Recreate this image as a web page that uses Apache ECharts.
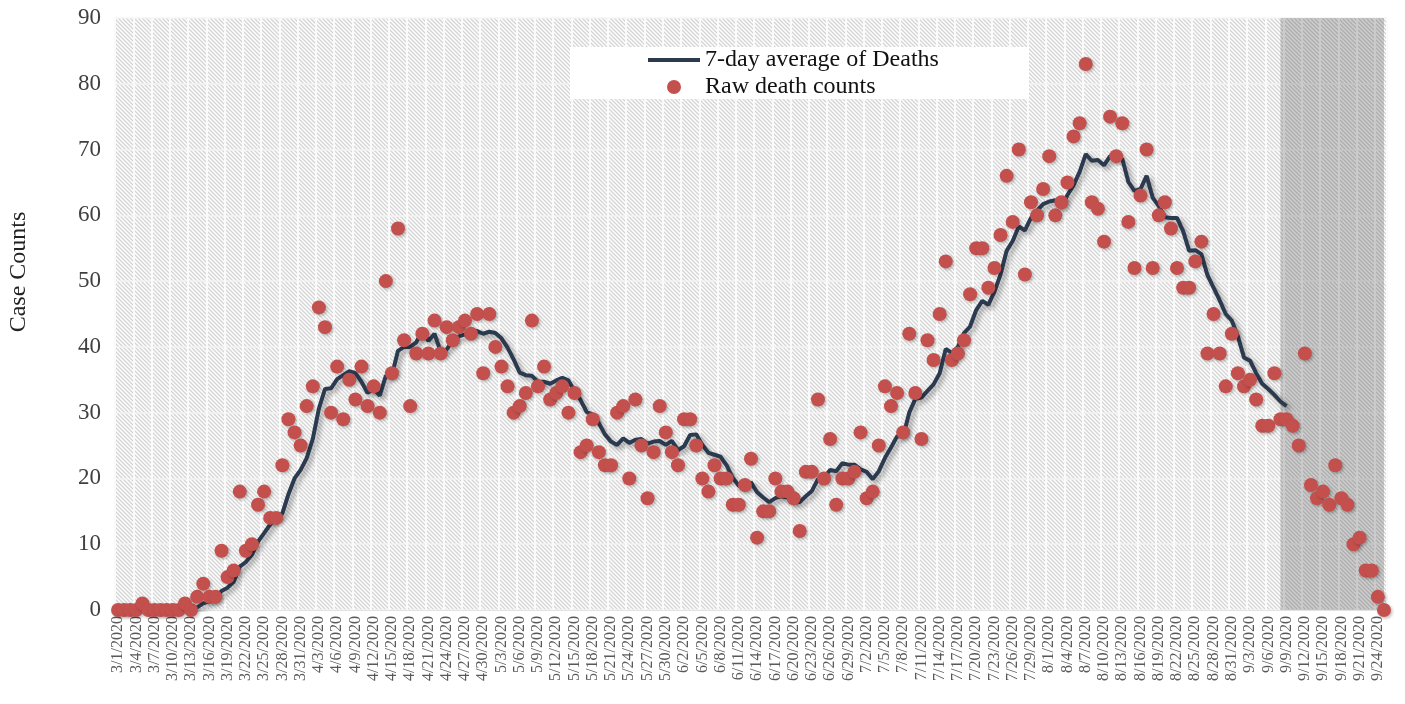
<!DOCTYPE html>
<html>
<head>
<meta charset="utf-8">
<script src="https://cdn.jsdelivr.net/npm/echarts@6/dist/echarts.min.js"></script>
<style>
  html, body { margin: 0; background: #fff; }
  #chart { width: 1405px; height: 704px; }
</style>
</head>
<body>
<div id="chart"></div>
<script>
// daily categories 3/1/2020 .. 9/25/2020
var dayCount = 209;
var days = [];
for (var d = 0; d < dayCount; d++) {
    var dt = new Date(2020, 2, 1 + d);
    days.push((dt.getMonth() + 1) + '/' + dt.getDate() + '/2020');
}

// raw daily deaths
var rawDeaths = [
    0, 0, 0, 0, 1, 0, 0, 0, 0, 0,
    0, 1, 0, 2, 4, 2, 2, 9, 5, 6,
    18, 9, 10, 16, 18, 14, 14, 22, 29, 27,
    25, 31, 34, 46, 43, 30, 37, 29, 35, 32,
    37, 31, 34, 30, 50, 36, 58, 41, 31, 39,
    42, 39, 44, 39, 43, 41, 43, 44, 42, 45,
    36, 45, 40, 37, 34, 30, 31, 33, 44, 34,
    37, 32, 33, 34, 30, 33, 24, 25, 29, 24,
    22, 22, 30, 31, 20, 32, 25, 17, 24, 31,
    27, 24, 22, 29, 29, 25, 20, 18, 22, 20,
    20, 16, 16, 19, 23, 11, 15, 15, 20, 18,
    18, 17, 12, 21, 21, 32, 20, 26, 16, 20,
    20, 21, 27, 17, 18, 25, 34, 31, 33, 27,
    42, 33, 26, 41, 38, 45, 53, 38, 39, 41,
    48, 55, 55, 49, 52, 57, 66, 59, 70, 51,
    62, 60, 64, 69, 60, 62, 65, 72, 74, 83,
    62, 61, 56, 75, 69, 74, 59, 52, 63, 70,
    52, 60, 62, 58, 52, 49, 49, 53, 56, 39,
    45, 39, 34, 42, 36, 34, 35, 32, 28, 28,
    36, 29, 29, 28, 25, 39, 19, 17, 18, 16,
    22, 17, 16, 10, 11, 6, 6, 2, 0
];

// 7-day average line, 3/7 .. 9/9
var avgFirst = 6;
var avgDeaths = [
    0.1, 0.1, 0.1, 0.1, 0.1, 0.1, 0.1,
    0.4, 1.0, 1.3, 1.6, 2.9, 3.4, 4.3,
    6.6, 7.3, 8.4, 10.4, 11.7, 13.0, 14.1,
    14.7, 17.6, 20.0, 21.3, 23.1, 26.0, 30.6,
    33.6, 33.7, 35.1, 35.7, 36.3, 36.0, 34.7,
    33.0, 33.6, 32.6, 35.6, 35.7, 39.4, 40.0,
    40.0, 40.7, 42.4, 40.9, 42.0, 39.3, 39.6,
    41.0, 41.6, 41.9, 42.3, 42.4, 42.0, 42.3,
    42.1, 41.3, 39.9, 38.1, 36.1, 35.7, 35.6,
    34.7, 34.7, 34.4, 34.9, 35.3, 34.9, 33.3,
    31.9, 30.1, 29.7, 28.4, 26.7, 25.6, 25.1,
    26.1, 25.4, 25.9, 26.0, 25.3, 25.6, 25.7,
    25.1, 25.7, 24.3, 24.9, 26.6, 26.7, 25.1,
    23.9, 23.6, 23.3, 22.0, 20.1, 18.9, 18.7,
    19.4, 17.9, 17.1, 16.4, 17.0, 17.3, 17.1,
    16.3, 16.4, 17.3, 18.1, 19.9, 20.1, 21.3,
    21.1, 22.3, 22.1, 22.1, 21.4, 21.0, 19.9,
    21.1, 23.1, 24.7, 26.4, 26.4, 30.0, 32.1,
    32.3, 33.3, 34.3, 36.0, 39.7, 39.1, 40.0,
    42.1, 43.1, 45.6, 47.0, 46.4, 48.4, 51.0,
    54.6, 56.1, 58.3, 57.7, 59.6, 60.7, 61.7,
    62.1, 62.3, 61.1, 63.1, 64.6, 66.6, 69.3,
    68.3, 68.4, 67.6, 69.0, 68.6, 68.6, 65.1,
    63.7, 64.0, 66.0, 62.7, 61.4, 59.7, 59.6,
    59.6, 57.6, 54.6, 54.7, 54.1, 50.9, 49.0,
    47.1, 45.0, 44.0, 41.6, 38.4, 37.9, 36.0,
    34.4, 33.6, 32.7, 31.7, 31.0
];

var shadeFrom = '9/8/2020';
var shadeTo = '9/25/2020';

var yTicks = { min: 0, max: 90, interval: 10 };

// pad the average onto the full day axis
var avgSeries = [];
for (var i = 0; i < dayCount; i++) {
    var k = i - avgFirst;
    avgSeries.push(k >= 0 && k < avgDeaths.length ? avgDeaths[k] : null);
}

// diagonal hatch background
function hatch(bg, fg, w) {
    var c = document.createElement('canvas');
    c.width = c.height = 16;
    var ctx = c.getContext('2d');
    ctx.fillStyle = bg;
    ctx.fillRect(0, 0, 16, 16);
    ctx.strokeStyle = fg;
    ctx.lineWidth = w;
    for (var n = -5; n <= 5; n++) {
        ctx.beginPath();
        ctx.moveTo(n * 4 - 2, -2);
        ctx.lineTo(n * 4 + 18, 18);
        ctx.stroke();
    }
    return c;
}

var serif = '"Liberation Serif", "Times New Roman", serif';

var myChart = echarts.init(document.getElementById('chart'));
myChart.setOption({
    animation: false,
    grid: {
        left: 115,
        right: 18,
        top: 18,
        bottom: 94,
        show: true,
        borderWidth: 0,
        backgroundColor: { image: hatch('#ffffff', '#d5d5d5', 1.4), repeat: 'repeat' }
    },
    legend: {
        // plain thick bar for the line, no marker on it
        data: [
            { name: '7-day average of Deaths', icon: 'path://M0,0H100V8H0Z' },
            { name: 'Raw death counts', icon: 'circle' }
        ],
        orient: 'vertical',
        left: 570,
        top: 47,
        backgroundColor: '#ffffff',
        padding: [1, 90, 0, 78],
        itemWidth: 52,
        itemHeight: 14,
        itemGap: 3,
        textStyle: {
            fontFamily: serif,
            fontSize: 24,
            color: '#111'
        }
    },
    graphic: [{
        type: 'text',
        x: 19,
        y: 272,
        rotation: Math.PI / 2,
        style: {
            text: 'Case Counts',
            font: '24px ' + serif,
            fill: '#222',
            textAlign: 'center',
            textVerticalAlign: 'middle'
        }
    }],
    xAxis: {
        type: 'category',
        data: days,
        boundaryGap: true,
        axisLine: { show: true, lineStyle: { color: '#e2e2e2' } },
        axisTick: { show: false },
        axisLabel: {
            interval: 2,
            rotate: 90,
            margin: 6,
            fontFamily: serif,
            fontSize: 16,
            color: '#595959'
        },
        splitLine: {
            show: true,
            interval: 2,
            lineStyle: { color: '#fafafa', width: 2 }
        }
    },
    yAxis: {
        type: 'value',
        min: yTicks.min,
        max: yTicks.max,
        interval: yTicks.interval,
        axisLine: { show: false },
        axisTick: { show: false },
        axisLabel: {
            margin: 14,
            fontFamily: serif,
            fontSize: 23,
            color: '#404040'
        },
        splitLine: { lineStyle: { color: '#f3f3f3', width: 1.5 } }
    },
    series: [
        {
            name: '7-day average of Deaths',
            type: 'line',
            data: avgSeries,
            symbol: 'none',
            showSymbol: false,
            z: 3,
            itemStyle: { color: '#2b3a4f' },
            lineStyle: {
                color: '#2b3a4f',
                width: 4,
                shadowColor: 'rgba(0,0,0,0.35)',
                shadowBlur: 5,
                shadowOffsetX: 3,
                shadowOffsetY: 3
            }
        },
        {
            name: 'Raw death counts',
            type: 'scatter',
            data: rawDeaths,
            symbolSize: 14,
            z: 4,
            itemStyle: {
                color: '#c4504d',
                opacity: 1,
                shadowColor: 'rgba(0,0,0,0.25)',
                shadowBlur: 3,
                shadowOffsetX: 1.5,
                shadowOffsetY: 1.5
            },
            markArea: {
                silent: true,
                itemStyle: { color: 'rgba(0,0,0,0.19)' },
                data: [[{ xAxis: shadeFrom }, { xAxis: shadeTo }]]
            }
        }
    ]
});
</script>
</body>
</html>
